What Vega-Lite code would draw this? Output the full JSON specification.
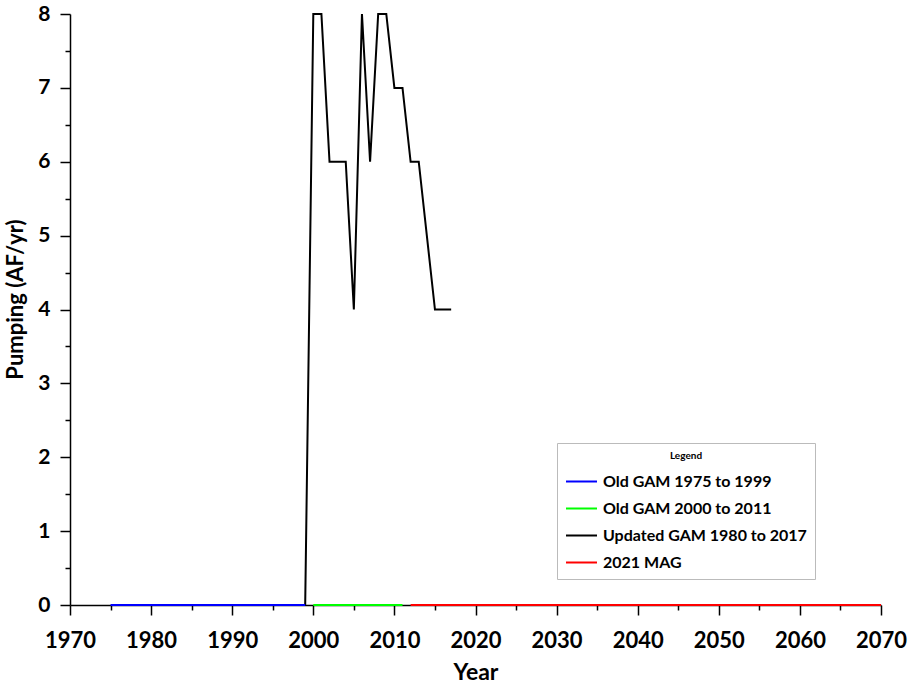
{
  "$schema": "https://vega.github.io/schema/vega-lite/v6.json",
  "width": 811,
  "height": 591,
  "autosize": "none",
  "padding": {"left": 70, "top": 14, "right": 28, "bottom": 82},
  "background": "white",
  "config": {
    "view": {"stroke": null},
    "font": "Lato",
    "axis": {
      "grid": false,
      "domainColor": "#000000",
      "tickColor": "#000000",
      "labelColor": "#000000",
      "titleColor": "#000000",
      "domainWidth": 1.5,
      "tickWidth": 1.5,
      "labelFont": "Lato",
      "titleFont": "Lato",
      "labelFlush": false,
      "labelOverlap": false
    },
    "line": {"strokeWidth": 2}
  },
  "data": {
    "values": [
      {"series": "Updated GAM 1980 to 2017", "year": 1980, "pumping": 0},
      {"series": "Updated GAM 1980 to 2017", "year": 1985, "pumping": 0},
      {"series": "Updated GAM 1980 to 2017", "year": 1990, "pumping": 0},
      {"series": "Updated GAM 1980 to 2017", "year": 1995, "pumping": 0},
      {"series": "Updated GAM 1980 to 2017", "year": 1999, "pumping": 0},
      {"series": "Updated GAM 1980 to 2017", "year": 2000, "pumping": 8},
      {"series": "Updated GAM 1980 to 2017", "year": 2001, "pumping": 8},
      {"series": "Updated GAM 1980 to 2017", "year": 2002, "pumping": 6},
      {"series": "Updated GAM 1980 to 2017", "year": 2003, "pumping": 6},
      {"series": "Updated GAM 1980 to 2017", "year": 2004, "pumping": 6},
      {"series": "Updated GAM 1980 to 2017", "year": 2005, "pumping": 4},
      {"series": "Updated GAM 1980 to 2017", "year": 2006, "pumping": 8},
      {"series": "Updated GAM 1980 to 2017", "year": 2007, "pumping": 6},
      {"series": "Updated GAM 1980 to 2017", "year": 2008, "pumping": 8},
      {"series": "Updated GAM 1980 to 2017", "year": 2009, "pumping": 8},
      {"series": "Updated GAM 1980 to 2017", "year": 2010, "pumping": 7},
      {"series": "Updated GAM 1980 to 2017", "year": 2011, "pumping": 7},
      {"series": "Updated GAM 1980 to 2017", "year": 2012, "pumping": 6},
      {"series": "Updated GAM 1980 to 2017", "year": 2013, "pumping": 6},
      {"series": "Updated GAM 1980 to 2017", "year": 2014, "pumping": 5},
      {"series": "Updated GAM 1980 to 2017", "year": 2015, "pumping": 4},
      {"series": "Updated GAM 1980 to 2017", "year": 2016, "pumping": 4},
      {"series": "Updated GAM 1980 to 2017", "year": 2017, "pumping": 4},
      {"series": "Old GAM 1975 to 1999", "year": 1975, "pumping": 0},
      {"series": "Old GAM 1975 to 1999", "year": 1999, "pumping": 0},
      {"series": "Old GAM 2000 to 2011", "year": 2000, "pumping": 0},
      {"series": "Old GAM 2000 to 2011", "year": 2011, "pumping": 0},
      {"series": "2021 MAG", "year": 2012, "pumping": 0},
      {"series": "2021 MAG", "year": 2070, "pumping": 0}
    ]
  },
  "resolve": {"axis": {"x": "independent", "y": "independent"}},
  "layer": [
    {
      "transform": [{"filter": "datum.series === 'Updated GAM 1980 to 2017'"}],
      "mark": {"type": "line", "strokeWidth": 2},
      "encoding": {
        "x": {
          "field": "year",
          "type": "quantitative",
          "scale": {"domain": [1970, 2070], "nice": false, "zero": false},
          "axis": {
            "orient": "bottom",
            "values": [1970, 1980, 1990, 2000, 2010, 2020, 2030, 2040, 2050, 2060, 2070],
            "format": "d",
            "tickSize": 10,
            "labelFontSize": 22,
            "labelFontWeight": "bold",
            "labelPadding": 15,
            "title": "Year",
            "titleFontSize": 23,
            "titleFontWeight": "bold",
            "titlePadding": 10
          }
        },
        "y": {
          "field": "pumping",
          "type": "quantitative",
          "scale": {"domain": [0, 8], "nice": false},
          "axis": {
            "orient": "left",
            "values": [0, 1, 2, 3, 4, 5, 6, 7, 8],
            "tickSize": 10,
            "labelFontSize": 21,
            "labelFontWeight": "bold",
            "labelPadding": 10,
            "title": "Pumping (AF/yr)",
            "titleFontSize": 22,
            "titleFontWeight": "bold",
            "titlePadding": 10,
            "titleY": 285
          }
        },
        "color": {
          "field": "series",
          "type": "nominal",
          "scale": {
            "domain": ["Old GAM 1975 to 1999", "Old GAM 2000 to 2011", "Updated GAM 1980 to 2017", "2021 MAG"],
            "range": ["#0000ff", "#00ff00", "#000000", "#ff0000"]
          },
          "legend": {
            "title": "Legend",
            "orient": "none",
            "legendX": 487,
            "legendY": 429,
            "titleAnchor": "middle",
            "titleFontSize": 10,
            "titleFontWeight": "bold",
            "titlePadding": 4,
            "labelFontSize": 16,
            "labelFontWeight": "bold",
            "labelColor": "#000000",
            "labelLimit": 400,
            "labelOffset": 5,
            "symbolType": "stroke",
            "symbolSize": 960,
            "symbolStrokeWidth": 2,
            "rowPadding": 2,
            "strokeColor": "#bbbbbb",
            "fillColor": "white",
            "padding": 8
          }
        }
      }
    },
    {
      "transform": [{"filter": "datum.series !== 'Updated GAM 1980 to 2017'"}],
      "mark": {"type": "line", "strokeWidth": 2},
      "encoding": {
        "x": {
          "field": "year",
          "type": "quantitative",
          "axis": {
            "orient": "bottom",
            "values": [1975, 1985, 1995, 2005, 2015, 2025, 2035, 2045, 2055, 2065],
            "tickSize": 5,
            "labels": false,
            "domain": false,
            "title": null
          }
        },
        "y": {
          "field": "pumping",
          "type": "quantitative",
          "axis": {
            "orient": "left",
            "values": [0.5, 1.5, 2.5, 3.5, 4.5, 5.5, 6.5, 7.5],
            "tickSize": 5,
            "labels": false,
            "domain": false,
            "title": null
          }
        },
        "color": {"field": "series", "type": "nominal"}
      }
    }
  ]
}
